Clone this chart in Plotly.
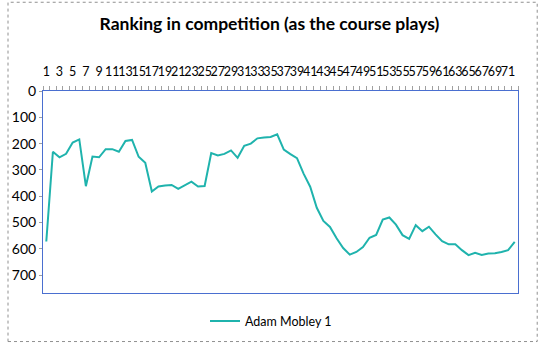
import plotly.graph_objects as go

holes = list(range(1, 73))
ranking = [572, 231, 252, 239, 196, 184, 362, 249, 252, 221,
           221, 231, 190, 186, 250, 273, 382, 363, 359, 357,
           372, 359, 345, 363, 361, 236, 245, 239, 226, 254,
           208, 200, 180, 177, 175, 165, 223, 240, 255, 314,
           364, 444, 494, 517, 560, 597, 622, 612, 593, 558,
           547, 489, 481, 508, 548, 562, 510, 533, 516, 545,
           571, 583, 583, 605, 624, 615, 623, 618, 617, 612,
           605, 574]
x_labels = [str(h) for h in holes if h % 2 == 1]
x_label_vals = [h for h in holes if h % 2 == 1]
y_ticks = [0, 100, 200, 300, 400, 500, 600, 700]

W, H = 539, 348
L, R, T, B = 36, 21, 91, 51
pw, ph = W - L - R, H - T - B

fig = go.Figure()
fig.add_trace(go.Scatter(
    x=holes, y=ranking, mode="lines", name="Adam Mobley 1",
    line=dict(color="#1fb3ad", width=2),
))

fig.update_layout(
    width=W, height=H,
    margin=dict(l=L, r=R, t=T, b=B),
    paper_bgcolor="white", plot_bgcolor="white",
    font=dict(family="Lato, Carlito, Calibri, sans-serif", size=12, color="#000000"),
    title=dict(text="<b>Ranking in competition (as the course plays)</b>",
               x=0.5, xanchor="center", y=1 - 24 / H, yanchor="middle",
               font=dict(size=17.5, color="#000000")),
    showlegend=True,
    legend=dict(orientation="h", x=0.48, xanchor="center", y=-29 / ph, yanchor="middle",
                font=dict(size=12.5, color="#000000"), itemwidth=30),
    xaxis=dict(
        side="top", range=[0.5, 72.5], tickmode="array",
        tickvals=x_label_vals, ticktext=x_labels, ticks="", tickangle=0,
        ticklabelstandoff=9,
        showgrid=False, zeroline=False, showline=True, mirror=True,
        linecolor="#4a6fd0", linewidth=1, tickfont=dict(size=12.5),
        minor=dict(ticks="outside", tick0=0.5, dtick=1, ticklen=4, tickcolor="#a0a0a0"),
    ),
    yaxis=dict(
        range=[768, 0], tickmode="array", tickvals=y_ticks,
        ticks="outside", ticklen=3, tickcolor="#a0a0a0",
        showgrid=False, zeroline=False, showline=True, mirror=True,
        linecolor="#4a6fd0", linewidth=1, tickfont=dict(size=14),
    ),
    shapes=[dict(type="rect", xref="paper", yref="paper",
                 x0=-(L - 0.5) / pw, x1=(W - L - 1.5) / pw,
                 y0=-(B - 1.5) / ph, y1=(ph + T - 0.5) / ph,
                 line=dict(color="#909090", width=1, dash="dot"))],
)

fig.write_html("out.html")
